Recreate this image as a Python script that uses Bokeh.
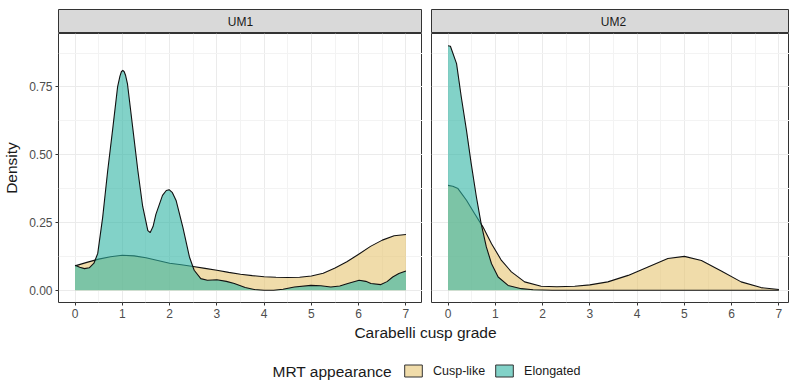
from bokeh.plotting import figure
from bokeh.layouts import column, row
from bokeh.models import Range1d, FixedTicker, Label, Legend, LegendItem
from bokeh.embed import file_html
from bokeh.resources import INLINE

# ---------------- data ----------------
facets = ["UM1", "UM2"]
groups = ["Cusp-like", "Elongated"]

um1_cusp_x = [0.0, 0.25, 0.5, 0.75, 1.0, 1.25, 1.5, 1.75, 2.0, 2.25, 2.5, 2.75, 3.0, 3.25, 3.5,
              3.75, 4.0, 4.25, 4.5, 4.75, 5.0, 5.25, 5.5, 5.75, 6.0, 6.25, 6.5, 6.75, 7.0]
um1_cusp_y = [0.090, 0.103, 0.115, 0.124, 0.129, 0.127, 0.120, 0.110, 0.100, 0.094, 0.088, 0.081,
              0.074, 0.066, 0.059, 0.054, 0.050, 0.048, 0.047, 0.048, 0.053, 0.063, 0.082, 0.105,
              0.133, 0.162, 0.185, 0.201, 0.206]

um1_elong_x = [0.0, 0.1, 0.2, 0.3, 0.4, 0.48, 0.585, 0.69, 0.8, 0.9, 0.95, 0.98, 1.01, 1.04, 1.07,
               1.11, 1.22, 1.33, 1.43, 1.54, 1.59, 1.65, 1.71, 1.85, 1.93, 1.99, 2.06, 2.14, 2.28,
               2.42, 2.52, 2.66, 2.8, 3.0, 3.2, 3.37, 3.6, 3.79, 4.0, 4.2, 4.4, 4.64, 4.99, 5.2,
               5.41, 5.6, 5.77, 6.01, 6.15, 6.26, 6.47, 6.6, 6.72, 6.85, 7.0]
um1_elong_y = [0.092, 0.085, 0.080, 0.083, 0.100, 0.136, 0.27, 0.44, 0.60, 0.75, 0.790, 0.806,
               0.811, 0.806, 0.792, 0.76, 0.60, 0.44, 0.31, 0.22, 0.213, 0.235, 0.28, 0.35, 0.368,
               0.371, 0.36, 0.33, 0.233, 0.123, 0.074, 0.043, 0.037, 0.039, 0.033, 0.025, 0.010,
               0.003, 0.0, 0.0, 0.004, 0.012, 0.018, 0.017, 0.012, 0.016, 0.025, 0.037, 0.033,
               0.025, 0.021, 0.032, 0.049, 0.062, 0.071]

um2_cusp_x = [0.0, 0.1, 0.21, 0.39, 0.56, 0.74, 0.92, 1.13, 1.34, 1.62, 1.97, 2.3, 2.68, 3.0, 3.38,
              3.81, 4.23, 4.65, 5.0, 5.36, 5.78, 6.2, 6.62, 7.0]
um2_cusp_y = [0.387, 0.384, 0.375, 0.332, 0.283, 0.233, 0.172, 0.110, 0.068, 0.031, 0.015, 0.013,
              0.015, 0.020, 0.031, 0.055, 0.086, 0.117, 0.125, 0.110, 0.071, 0.031, 0.010, 0.003]

um2_elong_x = [0.0, 0.05, 0.18, 0.28, 0.39, 0.49, 0.6, 0.7, 0.81, 0.92, 1.06, 1.27, 1.55, 1.8, 2.2, 7.0]
um2_elong_y = [0.902, 0.900, 0.836, 0.713, 0.59, 0.467, 0.344, 0.246, 0.16, 0.098, 0.049, 0.018,
               0.006, 0.002, 0.0, 0.0]

x_ticks = [0, 1, 2, 3, 4, 5, 6, 7]
x_minor = [0.5, 1.5, 2.5, 3.5, 4.5, 5.5, 6.5]
y_ticks = [0, 0.25, 0.5, 0.75]
y_minor = [0.125, 0.375, 0.625, 0.875]
y_tick_labels = ["0.00", "0.25", "0.50", "0.75"]

x_title = "Carabelli cusp grade"
y_title = "Density"
legend_title = "MRT appearance"

# ---------------- styles ----------------
FONT = "Liberation Sans"
COL = {"Cusp-like": "#E6C571", "Elongated": "#2EB4A3"}
ALPHA = 0.6
BORDER = "#333333"
GRID = "#EBEBEB"

PX_PER_UNIT = 364 / 7.7
Y_RANGE = (-0.045, 0.947)


def style_panel(p):
    p.outline_line_color = BORDER
    p.outline_line_width = 1
    p.background_fill_color = "white"
    for g in p.xgrid:
        g.ticker = FixedTicker(ticks=x_ticks, minor_ticks=x_minor)
    for g in p.ygrid:
        g.ticker = FixedTicker(ticks=y_ticks, minor_ticks=y_minor)
    p.grid.grid_line_color = GRID
    p.grid.grid_line_width = 1
    p.grid.minor_grid_line_color = "#F3F3F3"
    p.grid.minor_grid_line_width = 1


def style_axis(ax):
    ax.axis_line_color = None
    ax.major_tick_line_color = BORDER
    ax.major_tick_out = 3
    ax.major_tick_in = 0
    ax.minor_tick_line_color = None
    ax.major_label_text_color = "#4D4D4D"
    ax.major_label_text_font = FONT
    ax.major_label_text_font_size = "12px"
    ax.major_label_standoff = 2


def make_panel(fi, width, left_border, x_end, show_y):
    p = figure(width=width, height=289, output_backend="svg", toolbar_location=None,
               x_range=Range1d(-0.35, x_end), y_range=Range1d(*Y_RANGE),
               y_axis_location="left" if show_y else None,
               min_border_left=left_border, min_border_right=0,
               min_border_top=0, min_border_bottom=20)
    style_panel(p)
    p.xaxis.ticker = FixedTicker(ticks=x_ticks, minor_ticks=x_minor)
    style_axis(p.xaxis[0])
    if show_y:
        p.yaxis.ticker = FixedTicker(ticks=y_ticks, minor_ticks=y_minor)
        p.yaxis.major_label_overrides = {t: l for t, l in zip(y_ticks, y_tick_labels)}
        style_axis(p.yaxis[0])
        p.yaxis.axis_label = y_title
        p.yaxis.axis_label_text_font = FONT
        p.yaxis.axis_label_text_font_size = "15.5px"
        p.yaxis.axis_label_text_font_style = "normal"
        p.yaxis.axis_label_text_color = "#1A1A1A"
        p.yaxis.axis_label_standoff = 6
    series = data[fi]
    for g in groups:
        xs, ys = series[g]
        p.varea(x=xs, y1=[0] * len(xs), y2=ys, fill_color=COL[g], fill_alpha=ALPHA)
        p.line(x=xs, y=ys, line_color="#111111", line_width=1.1, line_join="round")
    return p


def make_strip(fi, width, left_border, x_end):
    s = figure(width=width, height=33, output_backend="svg", toolbar_location=None,
               x_range=Range1d(-0.35, x_end), y_range=Range1d(0, 1),
               x_axis_location=None, y_axis_location=None,
               min_border_left=left_border, min_border_right=0,
               min_border_top=9, min_border_bottom=0)
    s.grid.visible = False
    s.background_fill_color = "#D9D9D9"
    s.outline_line_color = BORDER
    s.outline_line_width = 1
    s.add_layout(Label(x=3.5, y=0.5, text=facets[fi], text_align="center",
                       text_baseline="middle", text_font=FONT, text_font_size="12px",
                       text_color="#1A1A1A"))
    return s


data = [
    {"Cusp-like": (um1_cusp_x, um1_cusp_y), "Elongated": (um1_elong_x, um1_elong_y)},
    {"Cusp-like": (um2_cusp_x, um2_cusp_y), "Elongated": (um2_elong_x, um2_elong_y)},
]

right_end = -0.35 + 358 / PX_PER_UNIT

sL = make_strip(0, 422, 58, 7.35)
sR = make_strip(1, 367, 9, right_end)
pL = make_panel(0, 422, 58, 7.35, True)
pR = make_panel(1, 367, 9, right_end, False)

# bottom area: x-axis title and legend
b = figure(width=789, height=66, output_backend="svg", toolbar_location=None,
           x_range=Range1d(0, 789), y_range=Range1d(0, 66),
           x_axis_location=None, y_axis_location=None,
           min_border_left=0, min_border_right=0, min_border_top=0, min_border_bottom=0)
b.grid.visible = False
b.outline_line_color = None
b.add_layout(Label(x=425, y=56, text=x_title, text_align="center", text_baseline="middle",
                   text_font=FONT, text_font_size="15.5px", text_color="#1A1A1A"))
b.add_layout(Label(x=272, y=17, text=legend_title, text_align="left", text_baseline="middle",
                   text_font=FONT, text_font_size="15.5px", text_color="#1A1A1A"))
items = []
for g in groups:
    # legend key only: a swatch placed outside the visible range of this strip
    r = b.quad(left=[-30], right=[-20], top=[-20], bottom=[-30], fill_color=COL[g],
               fill_alpha=ALPHA, line_color=BORDER, line_width=1)
    items.append(LegendItem(label=g, renderers=[r]))
leg = Legend(items=items, location=(402, 10), orientation="horizontal", padding=0, margin=0,
             spacing=8, label_standoff=9, glyph_width=22, glyph_height=15, label_height=15,
             label_text_font=FONT, label_text_font_size="12.5px", label_text_color="#1A1A1A",
             border_line_color=None, background_fill_alpha=0)
b.add_layout(leg)

layout = column(row(sL, sR), row(pL, pR), b)

open("out.html", "w").write(file_html(layout, INLINE))
